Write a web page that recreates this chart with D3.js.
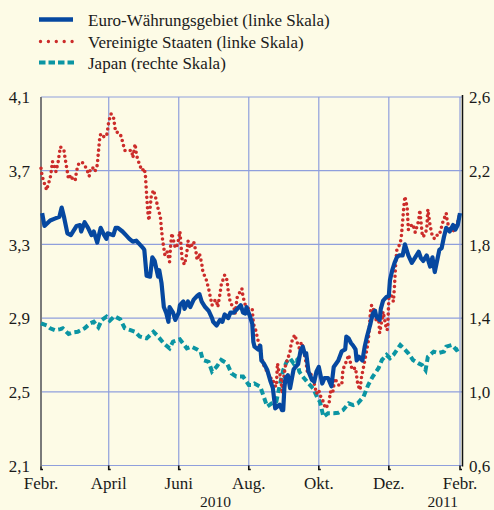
<!DOCTYPE html>
<html><head><meta charset="utf-8">
<script src="https://cdn.jsdelivr.net/npm/d3@7"></script>
<style>
html,body{margin:0;padding:0;background:#fdfbe6;}
svg{display:block;}
</style></head>
<body>
<svg id="chart" width="494" height="510"></svg>
<script>
// ---- data ----
const seriesNames = ["Euro-Währungsgebiet (linke Skala)", "Vereinigte Staaten (linke Skala)", "Japan (rechte Skala)"];
const leftTicks = [2.1, 2.5, 2.9, 3.3, 3.7, 4.1];
const rightTicks = [0.6, 1.0, 1.4, 1.8, 2.2, 2.6];
const monthTicks = ["2010-02-01","2010-04-01","2010-06-01","2010-08-01","2010-10-01","2010-12-01","2011-02-01"];
const monthLabels = ["Febr.","April","Juni","Aug.","Okt.","Dez.","Febr."];
const yearLabels = [["2010-07-03","2010"],["2011-01-17","2011"]];

const euro = [
["2010-02-02",3.47],["2010-02-04",3.40],["2010-02-09",3.43],["2010-02-13",3.44],["2010-02-17",3.45],["2010-02-19",3.50],["2010-02-21",3.45],["2010-02-24",3.36],["2010-02-27",3.35],
["2010-03-04",3.40],["2010-03-07",3.405],["2010-03-08",3.37],["2010-03-11",3.42],["2010-03-14",3.39],["2010-03-17",3.35],["2010-03-19",3.37],["2010-03-22",3.31],["2010-03-25",3.39],["2010-03-28",3.35],["2010-03-30",3.33],["2010-03-31",3.36],
["2010-04-05",3.35],["2010-04-07",3.39],["2010-04-09",3.39],["2010-04-13",3.37],["2010-04-16",3.35],["2010-04-19",3.33],["2010-04-22",3.315],["2010-04-25",3.32],["2010-04-28",3.30],
["2010-05-01",3.28],["2010-05-02",3.27],["2010-05-04",3.13],["2010-05-07",3.125],["2010-05-09",3.23],["2010-05-11",3.21],["2010-05-14",3.125],["2010-05-15",3.16],["2010-05-17",3.09],["2010-05-19",2.96],["2010-05-21",2.93],["2010-05-23",2.88],["2010-05-24",2.96],["2010-05-27",2.93],["2010-05-29",2.89],
["2010-06-01",2.93],["2010-06-02",2.97],["2010-06-05",2.99],["2010-06-06",2.95],["2010-06-09",2.99],["2010-06-11",2.96],["2010-06-14",3.00],["2010-06-17",3.02],["2010-06-19",3.03],["2010-06-21",2.99],["2010-06-24",2.96],["2010-06-27",2.94],["2010-06-30",2.90],
["2010-07-01",2.88],["2010-07-04",2.86],["2010-07-07",2.89],["2010-07-09",2.88],["2010-07-11",2.92],["2010-07-14",2.90],["2010-07-16",2.93],["2010-07-19",2.93],["2010-07-22",2.95],["2010-07-25",2.97],["2010-07-27",2.93],["2010-07-29",2.925],["2010-07-30",2.96],
["2010-08-02",2.91],["2010-08-04",2.87],["2010-08-05",2.77],["2010-08-06",2.745],["2010-08-09",2.73],["2010-08-11",2.75],["2010-08-12",2.67],["2010-08-14",2.655],["2010-08-17",2.62],["2010-08-20",2.555],["2010-08-22",2.52],["2010-08-24",2.41],["2010-08-28",2.43],["2010-08-30",2.40],["2010-08-31",2.40],
["2010-09-01",2.52],["2010-09-02",2.575],["2010-09-04",2.59],["2010-09-06",2.52],["2010-09-09",2.62],["2010-09-10",2.63],["2010-09-13",2.65],["2010-09-15",2.72],["2010-09-17",2.745],["2010-09-19",2.70],["2010-09-20",2.71],["2010-09-22",2.61],["2010-09-25",2.565],["2010-09-27",2.555],["2010-09-29",2.61],
["2010-10-01",2.635],["2010-10-04",2.545],["2010-10-06",2.575],["2010-10-09",2.575],["2010-10-12",2.53],["2010-10-14",2.635],["2010-10-18",2.67],["2010-10-21",2.72],["2010-10-24",2.73],["2010-10-25",2.80],["2010-10-27",2.79],["2010-10-29",2.765],["2010-10-31",2.75],
["2010-11-02",2.73],["2010-11-03",2.67],["2010-11-05",2.69],["2010-11-08",2.67],["2010-11-10",2.745],["2010-11-12",2.80],["2010-11-15",2.87],["2010-11-17",2.925],["2010-11-19",2.94],["2010-11-20",2.91],["2010-11-23",2.89],["2010-11-24",2.95],["2010-11-26",2.995],["2010-11-29",3.015],
["2010-12-01",3.02],["2010-12-02",3.107],["2010-12-04",3.16],["2010-12-06",3.20],["2010-12-08",3.23],["2010-12-10",3.24],["2010-12-13",3.24],["2010-12-15",3.30],["2010-12-18",3.24],["2010-12-21",3.20],["2010-12-24",3.23],["2010-12-27",3.26],["2010-12-29",3.225],["2010-12-31",3.21],
["2011-01-03",3.24],["2011-01-06",3.18],["2011-01-08",3.23],["2011-01-10",3.15],["2011-01-12",3.21],["2011-01-14",3.27],["2011-01-16",3.28],["2011-01-18",3.34],["2011-01-20",3.39],["2011-01-23",3.37],["2011-01-26",3.405],["2011-01-28",3.38],["2011-01-30",3.405],["2011-02-01",3.47]
];

const usa = [
["2010-02-01",3.713],["2010-02-02",3.67],["2010-02-04",3.63],["2010-02-06",3.595],["2010-02-07",3.62],["2010-02-09",3.66],["2010-02-10",3.70],["2010-02-11",3.75],["2010-02-13",3.72],["2010-02-14",3.695],["2010-02-16",3.75],["2010-02-17",3.794],["2010-02-18",3.83],["2010-02-19",3.82],["2010-02-21",3.81],["2010-02-22",3.767],["2010-02-23",3.73],["2010-02-25",3.655],["2010-02-27",3.677],
["2010-03-01",3.646],["2010-03-03",3.653],["2010-03-04",3.70],["2010-03-06",3.74],["2010-03-08",3.747],["2010-03-10",3.74],["2010-03-13",3.707],["2010-03-15",3.67],["2010-03-16",3.713],["2010-03-18",3.716],["2010-03-20",3.695],["2010-03-22",3.73],["2010-03-23",3.80],["2010-03-24",3.867],["2010-03-25",3.90],["2010-03-27",3.885],["2010-03-30",3.885],["2010-03-31",3.92],
["2010-04-01",3.966],["2010-04-03",4.008],["2010-04-05",3.997],["2010-04-06",3.953],["2010-04-07",3.91],["2010-04-10",3.906],["2010-04-12",3.885],["2010-04-13",3.857],["2010-04-15",3.81],["2010-04-18",3.81],["2010-04-21",3.81],["2010-04-22",3.77],["2010-04-24",3.845],["2010-04-25",3.794],["2010-04-26",3.767],["2010-04-28",3.73],["2010-04-30",3.70],
["2010-05-02",3.713],["2010-05-03",3.67],["2010-05-04",3.57],["2010-05-05",3.48],["2010-05-06",3.43],["2010-05-08",3.559],["2010-05-10",3.595],["2010-05-12",3.55],["2010-05-14",3.495],["2010-05-16",3.45],["2010-05-17",3.378],["2010-05-18",3.32],["2010-05-19",3.28],["2010-05-20",3.24],["2010-05-22",3.26],["2010-05-24",3.206],["2010-05-25",3.30],["2010-05-26",3.36],["2010-05-29",3.28],["2010-05-31",3.30],
["2010-06-02",3.37],["2010-06-04",3.215],["2010-06-06",3.19],["2010-06-08",3.25],["2010-06-09",3.32],["2010-06-11",3.28],["2010-06-14",3.315],["2010-06-16",3.26],["2010-06-17",3.215],["2010-06-19",3.25],["2010-06-21",3.197],["2010-06-22",3.152],["2010-06-25",3.107],["2010-06-27",3.06],["2010-06-30",2.97],
["2010-07-03",3.00],["2010-07-04",2.99],["2010-07-05",2.96],["2010-07-07",3.035],["2010-07-08",3.08],["2010-07-11",3.134],["2010-07-13",3.107],["2010-07-14",3.052],["2010-07-16",2.98],["2010-07-19",2.96],["2010-07-20",2.925],["2010-07-22",3.016],["2010-07-26",3.06],["2010-07-27",3.016],["2010-07-29",2.97],
["2010-08-01",2.95],["2010-08-04",2.95],["2010-08-05",2.87],["2010-08-07",2.835],["2010-08-09",2.78],["2010-08-11",2.737],["2010-08-12",2.69],["2010-08-14",2.645],["2010-08-16",2.62],["2010-08-18",2.60],["2010-08-19",2.573],["2010-08-22",2.573],["2010-08-23",2.537],["2010-08-25",2.528],["2010-08-26",2.655],["2010-08-27",2.62],["2010-08-29",2.573],["2010-08-30",2.49],["2010-08-31",2.555],
["2010-09-02",2.645],["2010-09-04",2.68],["2010-09-06",2.72],["2010-09-07",2.765],["2010-09-10",2.81],["2010-09-12",2.77],["2010-09-14",2.737],["2010-09-16",2.77],["2010-09-18",2.72],["2010-09-20",2.655],["2010-09-21",2.61],["2010-09-25",2.59],["2010-09-27",2.545],["2010-09-29",2.49],
["2010-10-01",2.51],["2010-10-02",2.48],["2010-10-04",2.465],["2010-10-05",2.44],["2010-10-07",2.41],["2010-10-10",2.44],["2010-10-11",2.50],["2010-10-13",2.49],["2010-10-15",2.573],["2010-10-18",2.537],["2010-10-21",2.537],["2010-10-22",2.62],["2010-10-25",2.665],["2010-10-27",2.70],["2010-10-30",2.62],
["2010-11-02",2.63],["2010-11-04",2.537],["2010-11-06",2.51],["2010-11-07",2.573],["2010-11-09",2.635],["2010-11-11",2.70],["2010-11-13",2.77],["2010-11-14",2.845],["2010-11-15",2.935],["2010-11-16",2.97],["2010-11-18",2.94],["2010-11-19",2.908],["2010-11-20",2.89],["2010-11-22",2.91],["2010-11-23",2.82],["2010-11-25",2.89],["2010-11-26",2.935],["2010-11-28",2.87],["2010-11-29",2.835],["2010-11-30",2.84],
["2010-12-01",3.007],["2010-12-03",3.025],["2010-12-05",2.99],["2010-12-06",3.08],["2010-12-07",3.20],["2010-12-08",3.27],["2010-12-11",3.306],["2010-12-12",3.35],["2010-12-13",3.423],["2010-12-14",3.50],["2010-12-15",3.56],["2010-12-17",3.50],["2010-12-18",3.38],["2010-12-19",3.395],["2010-12-22",3.41],["2010-12-24",3.365],["2010-12-27",3.43],["2010-12-28",3.487],["2010-12-30",3.36],["2010-12-31",3.34],
["2011-01-03",3.38],["2011-01-04",3.49],["2011-01-06",3.40],["2011-01-08",3.342],["2011-01-10",3.33],["2011-01-12",3.35],["2011-01-14",3.35],["2011-01-17",3.42],["2011-01-20",3.47],["2011-01-21",3.42],["2011-01-23",3.387],["2011-01-26",3.37],["2011-01-28",3.40],["2011-01-30",3.42],["2011-02-01",3.47]
];

const japan = [
["2010-02-01",1.372],["2010-02-06",1.36],["2010-02-09",1.345],["2010-02-13",1.335],["2010-02-18",1.34],["2010-02-20",1.345],["2010-02-25",1.314],
["2010-03-01",1.323],["2010-03-05",1.326],["2010-03-11",1.345],["2010-03-16",1.372],["2010-03-19",1.38],["2010-03-23",1.35],["2010-03-26",1.39],["2010-03-30",1.408],
["2010-04-02",1.386],["2010-04-06",1.41],["2010-04-11",1.394],["2010-04-15",1.345],["2010-04-20",1.335],["2010-04-24",1.326],["2010-04-28",1.30],
["2010-05-04",1.29],["2010-05-10",1.326],["2010-05-14",1.30],["2010-05-19",1.263],["2010-05-24",1.236],["2010-05-27",1.272],
["2010-06-02",1.285],["2010-06-08",1.236],["2010-06-12",1.245],["2010-06-17",1.23],["2010-06-20",1.218],["2010-06-22",1.173],["2010-06-27",1.163],["2010-06-30",1.11],
["2010-07-04",1.136],["2010-07-08",1.173],["2010-07-13",1.154],["2010-07-17",1.10],["2010-07-21",1.083],["2010-07-27",1.083],
["2010-08-01",1.037],["2010-08-04",1.037],["2010-08-06",1.045],["2010-08-11",1.028],["2010-08-14",0.974],["2010-08-17",0.92],["2010-08-21",0.937],["2010-08-25",0.946],["2010-08-28",1.037],["2010-08-31",1.118],
["2010-09-03",1.163],["2010-09-06",1.182],["2010-09-09",1.154],["2010-09-12",1.173],["2010-09-14",1.11],["2010-09-17",1.083],["2010-09-22",1.045],["2010-09-26",1.019],["2010-09-30",0.964],
["2010-10-02",0.946],["2010-10-05",0.865],["2010-10-09",0.883],["2010-10-14",0.883],["2010-10-18",0.886],["2010-10-22",0.90],["2010-10-27",0.937],["2010-10-31",0.928],
["2010-11-04",0.937],["2010-11-09",0.974],["2010-11-13",1.037],["2010-11-17",1.083],["2010-11-22",1.128],["2010-11-25",1.173],["2010-11-29",1.20],
["2010-12-02",1.182],["2010-12-05",1.20],["2010-12-08",1.227],["2010-12-11",1.254],["2010-12-14",1.236],["2010-12-18",1.209],["2010-12-22",1.173],["2010-12-27",1.154],["2010-12-30",1.145],
["2011-01-02",1.118],["2011-01-04",1.19],["2011-01-09",1.218],["2011-01-13",1.21],["2011-01-18",1.218],["2011-01-20",1.245],["2011-01-25",1.254],["2011-01-29",1.227],["2011-02-01",1.236]
];

// ---- layout ----
const FONT = "'Liberation Serif', Tinos, 'Times New Roman', Times, 'DejaVu Serif', serif";
const svg = d3.select("#chart").attr("font-family", FONT);
const W = 494, H = 510;
const mLeft = 41, mRight = 460, mTop = 97, mBottom = 465.5;
const parse = d3.timeParse("%Y-%m-%d");
const C = {bg:"#fdfbe6", grid:"#8f9fdc", blue:"#0648a0", red:"#cc2c2a", teal:"#0b95a3", text:"#1a1a1a"};

svg.append("rect").attr("width",W).attr("height",H).attr("fill",C.bg);

const x = d3.scaleTime().domain([parse("2010-02-01"), parse("2011-02-01")]).range([mLeft, mRight]);
const yL = d3.scaleLinear().domain([2.1, 4.1]).range([mBottom, mTop]);
const yR = d3.scaleLinear().domain([0.6, 2.6]).range([mBottom, mTop]);

// grid
const g = svg.append("g");
g.selectAll("line.h").data(leftTicks).join("line")
  .attr("x1", mLeft).attr("x2", mRight+2).attr("y1", d=>yL(d)).attr("y2", d=>yL(d))
  .attr("stroke", C.grid).attr("stroke-width", 1.2);
g.selectAll("line.v").data(monthTicks).join("line")
  .attr("x1", d=>x(parse(d))).attr("x2", d=>x(parse(d))).attr("y1", mTop).attr("y2", mBottom)
  .attr("stroke", C.grid).attr("stroke-width", 1.2);

// bottom tick marks
g.selectAll("path.tk").data(monthTicks).join("path")
  .attr("d", d=>{const px=x(parse(d)); return `M${px},${mBottom} v4 h2`;})
  .attr("fill","none").attr("stroke","#111").attr("stroke-width",1.6);

// axis lines
svg.append("line").attr("x1",mLeft).attr("x2",mLeft).attr("y1",mTop).attr("y2",mBottom+1)
  .attr("stroke","#7a7a7a").attr("stroke-width",2);
svg.append("line").attr("x1",mRight+2.5).attr("x2",mRight+2.5).attr("y1",mTop-2).attr("y2",mBottom+1)
  .attr("stroke","#111").attr("stroke-width",1.5);

// axis labels
const fmt = d => d3.format(".1f")(d).replace(".", ",");
svg.append("g").selectAll("text").data(leftTicks).join("text")
  .attr("x", 30).attr("y", d=>yL(d)).attr("dy","0.36em").attr("text-anchor","end")
  .attr("font-size", 17).attr("fill", C.text).text(fmt);
svg.append("g").selectAll("text").data(rightTicks).join("text")
  .attr("x", 469).attr("y", d=>yR(d)).attr("dy","0.36em").attr("text-anchor","start")
  .attr("font-size", 17).attr("fill", C.text).text(fmt);
svg.append("g").selectAll("text").data(monthTicks).join("text")
  .attr("x", d=>x(parse(d))).attr("y", 489).attr("text-anchor","middle")
  .attr("font-size", 17).attr("fill", C.text).text((d,i)=>monthLabels[i]);
svg.append("g").selectAll("text").data(yearLabels).join("text")
  .attr("x", d=>x(parse(d[0]))).attr("y", 506.5).attr("text-anchor","middle")
  .attr("font-size", 15.5).attr("fill", C.text).text(d=>d[1]);

// series
const lineL = d3.line().x(d=>x(parse(d[0]))).y(d=>yL(d[1]));
const lineR = d3.line().x(d=>x(parse(d[0]))).y(d=>yR(d[1]));

svg.append("path").datum(japan).attr("d", lineR).attr("fill","none")
  .attr("stroke", C.teal).attr("stroke-width", 4).attr("stroke-dasharray","6 3.5");
svg.append("path").datum(usa).attr("d", lineL).attr("fill","none")
  .attr("stroke", C.red).attr("stroke-width", 3.6).attr("stroke-linecap","round")
  .attr("stroke-dasharray","0 5.2");
svg.append("path").datum(euro).attr("d", lineL).attr("fill","none")
  .attr("stroke", C.blue).attr("stroke-width", 4.2).attr("stroke-linejoin","round");

// legend
const legY = [19.5, 41.5, 62.5];
const leg = svg.append("g");
leg.append("line").attr("x1",39).attr("x2",73).attr("y1",legY[0]).attr("y2",legY[0])
  .attr("stroke",C.blue).attr("stroke-width",4.5);
leg.append("line").attr("x1",40.5).attr("x2",73).attr("y1",legY[1]).attr("y2",legY[1])
  .attr("stroke",C.red).attr("stroke-width",3.4).attr("stroke-linecap","round").attr("stroke-dasharray","0 7.9");
leg.append("line").attr("x1",39).attr("x2",74).attr("y1",legY[2]).attr("y2",legY[2])
  .attr("stroke",C.teal).attr("stroke-width",4.2).attr("stroke-dasharray","6.5 3");
leg.selectAll("text").data(seriesNames).join("text")
  .attr("x", 88).attr("y", (d,i)=>legY[i]).attr("dy","0.36em")
  .attr("font-size", 17).attr("fill", C.text).text(d=>d);
</script>
</body></html>
